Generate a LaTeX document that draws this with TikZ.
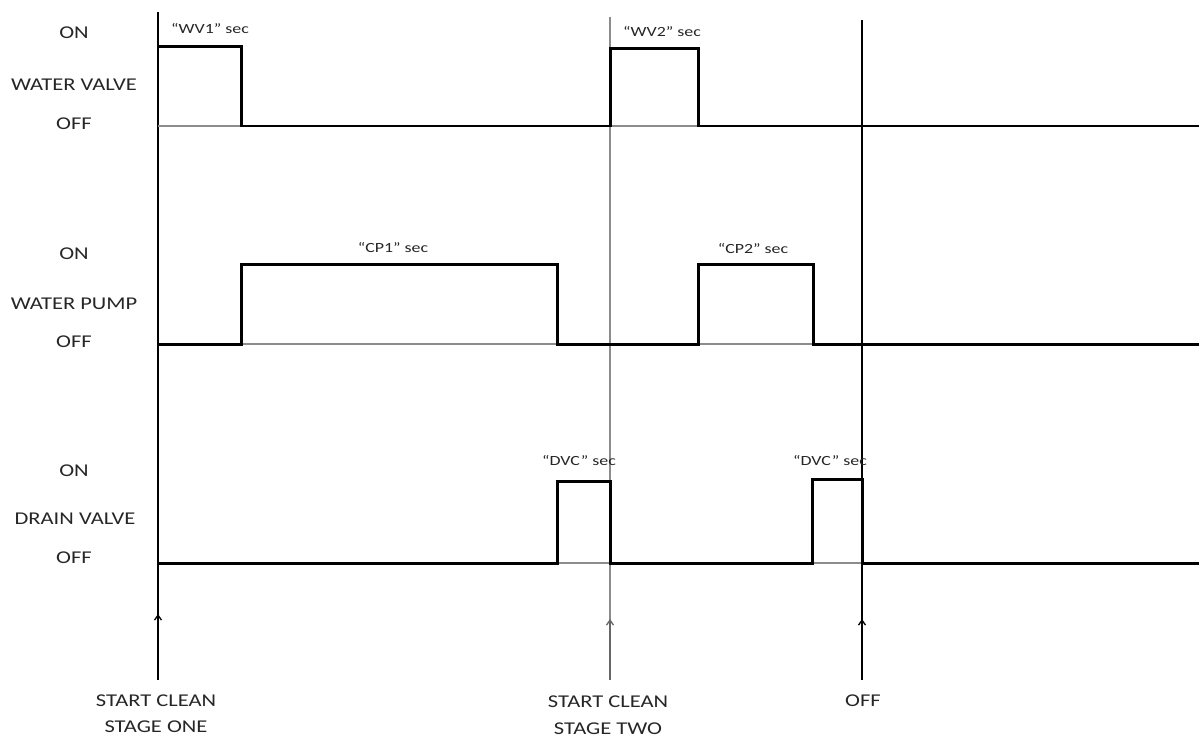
\documentclass[tikz,border=0pt]{standalone}
\usepackage{fontspec}
\setmainfont{Carlito}
\usetikzlibrary{arrows.meta}
\begin{document}
\begin{tikzpicture}[x=1pt,y=-1pt,
  lbl/.style={font=\fontsize{18}{18}\selectfont, inner sep=0pt, text=black!85, xscale=1.25},
  tlbl/.style={font=\fontsize{14}{14}\selectfont, inner sep=0pt, text=black!85, xscale=1.28},
  sig/.style={line width=3pt, line join=miter, line cap=rect},
  thinbase/.style={line width=1.3pt},
  greyline/.style={line width=1.2pt, draw=black!45},
  marker/.style={line width=1.3pt},
  uparrow/.style={line width=1.3pt, -{Straight Barb[length=5pt,width=7pt]}}]
\useasboundingbox (0,0) rectangle (1199,738);

% vertical time markers
\coordinate (t0top) at (158,12);   \coordinate (t0bot) at (158,680);
\coordinate (t1top) at (610,17);   \coordinate (t1bot) at (610,680);
\coordinate (t2top) at (862,20);   \coordinate (t2bot) at (862,680);
\draw[marker] (t0top) -- (t0bot);
\draw[greyline] (t1top) -- (t1bot);
\draw[marker] (t2top) -- (t2bot);
\coordinate (a0) at (158,614); \coordinate (a1) at (610,619); \coordinate (a2) at (862,619);
\draw[uparrow] (t0bot) -- (a0);
\draw[uparrow, draw=black!60] (t1bot) -- (a1);
\draw[uparrow] (t2bot) -- (a2);

% ---------- water valve ----------
\draw[greyline] (158,126) -- (1199,126);
\draw[thinbase] (241,126) -- (610,126);
\draw[thinbase] (698,126) -- (1199,126);
\draw[sig] (158,47) -- (241,47) -- (241,126);
\draw[sig] (610,126) -- (610,49) -- (698,49) -- (698,126);

% ---------- water pump ----------
\draw[greyline] (158,344) -- (1199,344);
\draw[sig] (158,344) -- (241,344) -- (241,264) -- (557,264) -- (557,344) -- (698,344)
           -- (698,264) -- (813,264) -- (813,344) -- (1199,344);

% ---------- drain valve ----------
\draw[greyline] (557,563) -- (610,563);
\draw[greyline] (812,563) -- (862,563);
\draw[sig] (158,563) -- (557,563) -- (557,481) -- (610,481) -- (610,563) -- (812,563)
           -- (812,479) -- (862,479) -- (862,563) -- (1199,563);

% ---------- left labels ----------
\node[lbl] (wvon)  at (74,33)  {ON};
\node[lbl] (wvnm)  at (74,85)  {WATER VALVE};
\node[lbl] (wvoff) at (74,124) {OFF};
\node[lbl] (wpon)  at (74,254) {ON};
\node[lbl] (wpnm)  at (74,304) {WATER PUMP};
\node[lbl] (wpoff) at (74,342) {OFF};
\node[lbl] (dvon)  at (74,471) {ON};
\node[lbl] (dvnm)  at (75,519) {DRAIN VALVE};
\node[lbl] (dvoff) at (74,558) {OFF};

% ---------- timing labels ----------
\node[tlbl] (lwv1) at (210,29)  {“WV1” sec};
\node[tlbl] (lwv2) at (662,32)  {“WV2” sec};
\node[tlbl] (lcp1) at (393,248) {“CP1” sec};
\node[tlbl] (lcp2) at (753,249) {“CP2” sec};
\node[tlbl] (ldv1) at (579,460) {“DVC” sec};
\node[tlbl] (ldv2) at (830,460) {“DVC” sec};

% ---------- bottom labels ----------
\node[lbl] (s1a) at (156,701) {START CLEAN};
\node[lbl] (s1b) at (156,727) {STAGE ONE};
\node[lbl] (s2a) at (608,702) {START CLEAN};
\node[lbl] (s2b) at (608,729) {STAGE TWO};
\node[lbl] (off) at (863,701) {OFF};
\end{tikzpicture}
\end{document}
